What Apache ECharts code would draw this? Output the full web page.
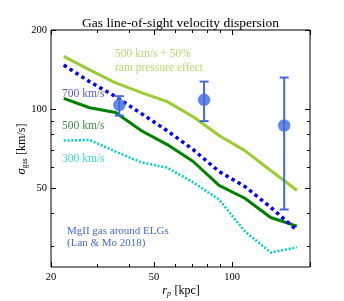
<!DOCTYPE html>
<html><head><meta charset="utf-8">
<script src="https://cdn.jsdelivr.net/npm/echarts@6/dist/echarts.min.js"></script>
<style>html,body{margin:0;padding:0;background:#fff}#c{width:344px;height:301px}</style>
</head><body><div id="c"></div>
<script>
// ---- data ----
const rp = [22.4, 28.2, 35.5, 44.7, 56.2, 70.8, 89.1, 112, 141, 178];
const v500ram = [158.6, 141, 125.8, 115.4, 106.7, 93.4, 79.2, 69.4, 58.3, 49];
const v700 = [147, 127, 111.4, 96, 82.6, 70, 57.8, 50.7, 42.2, 34.5];
const v500 = [109.8, 101.1, 96.9, 82.6, 73.2, 63.1, 51.2, 45.7, 38.6, 35.8];
const v300 = [75.8, 76.2, 68.8, 62.6, 59.8, 52.5, 45.2, 34.2, 28.4, 29.7];
const obsR = [36.7, 78, 159];
const obsSigma = [103.5, 108.4, 86.5];
const obsLow = [94.4, 89.9, 41.4];
const obsHigh = [111.9, 127.2, 131.8];
const xMajor = [20, 50, 100, 200];
const xMajorLabels = ['20', '50', '100', ''];
const xMinor = [30, 40, 60, 70, 80, 90];
const yMajor = [50, 100, 200];
const yMajorLabels = ['50', '100', '200'];
const yMinor = [30, 40, 60, 70, 80, 90];
const X_MIN = 20, X_MAX = 200, Y_MIN = 25, Y_MAX = 200;

const SERIF = '"Liberation Serif", "DejaVu Serif", serif';
const chart = echarts.init(document.getElementById('c'), null, {renderer: 'canvas'});
const pairs = ys => rp.map((x, i) => [x, ys[i]]);

function ticksRender(params, api) {
  const ch = [];
  const L = api.coord([X_MIN, Y_MIN])[0], R = api.coord([X_MAX, Y_MIN])[0];
  const B = api.coord([X_MIN, Y_MIN])[1], T = api.coord([X_MIN, Y_MAX])[1];
  const st = {stroke: '#000', lineWidth: 1};
  const addX = (v, len) => {
    const x = Math.round(api.coord([v, Y_MIN])[0]) + 0.5;
    ch.push({type: 'line', shape: {x1: x, y1: B, x2: x, y2: B - len}, style: st});
    ch.push({type: 'line', shape: {x1: x, y1: T, x2: x, y2: T + len}, style: st});
  };
  const addY = (v, len) => {
    const y = Math.round(api.coord([X_MIN, v])[1]) + 0.5;
    ch.push({type: 'line', shape: {x1: L, y1: y, x2: L + len, y2: y}, style: st});
    ch.push({type: 'line', shape: {x1: R, y1: y, x2: R - len, y2: y}, style: st});
  };
  xMajor.forEach(v => addX(v, 5));
  xMinor.forEach(v => addX(v, 3));
  yMajor.forEach(v => addY(v, 5));
  yMinor.forEach(v => addY(v, 3));
  xMajor.forEach((v, i) => {
    const x = api.coord([v, Y_MIN])[0];
    ch.push({type: 'text', style: {text: xMajorLabels[i], x: x, y: B + 5, textAlign: 'center', align: 'center',
      textVerticalAlign: 'top', verticalAlign: 'top', fontSize: 10.5, fontFamily: SERIF, fill: '#000'}});
  });
  yMajor.forEach((v, i) => {
    const y = api.coord([X_MIN, v])[1];
    ch.push({type: 'text', style: {text: yMajorLabels[i], x: L - 4, y: y, textAlign: 'right', align: 'right',
      textVerticalAlign: 'middle', verticalAlign: 'middle', fontSize: 10.5, fontFamily: SERIF, fill: '#000'}});
  });
  return {type: 'group', children: ch};
}

function errRender(params, api) {
  const x = api.value(0);
  const top = api.coord([x, api.value(3)]);
  const bot = api.coord([x, api.value(2)]);
  const hw = 4.5, c = '#4169e1';
  const st = {stroke: c, lineWidth: 2};
  return {type: 'group', children: [
    {type: 'line', shape: {x1: top[0], y1: top[1], x2: bot[0], y2: bot[1]}, style: st},
    {type: 'line', shape: {x1: top[0] - hw, y1: top[1], x2: top[0] + hw, y2: top[1]}, style: st},
    {type: 'line', shape: {x1: bot[0] - hw, y1: bot[1], x2: bot[0] + hw, y2: bot[1]}, style: st}
  ]};
}

const txt = (text, x, y, color, size) => ({type: 'text', left: x, top: y - (size || 11.5) * 0.6,
  style: {text: text, fill: color, font: (size || 11.5) + 'px ' + SERIF}});

chart.setOption({
  animation: false,
  backgroundColor: '#fff',
  grid: {left: 51, right: 34, top: 30, bottom: 34, show: true, borderColor: '#000', borderWidth: 1, containLabel: false},
  xAxis: {type: 'log', logBase: 10, min: X_MIN, max: X_MAX,
    axisLine: {show: false}, axisTick: {show: false}, axisLabel: {show: false}, splitLine: {show: false}},
  yAxis: {type: 'log', logBase: 10, min: Y_MIN, max: Y_MAX,
    axisLine: {show: false}, axisTick: {show: false}, axisLabel: {show: false}, splitLine: {show: false}},
  series: [
    {type: 'line', data: pairs(v300), symbol: 'none', z: 2,
      lineStyle: {color: '#00cccc', width: 2.5, type: [2, 1.8], cap: 'butt'}},
    {type: 'line', data: pairs(v500), symbol: 'none', z: 3,
      lineStyle: {color: '#008000', width: 3}},
    {type: 'line', data: pairs(v700), symbol: 'none', z: 4,
      lineStyle: {color: '#0000ff', width: 3.5, type: [3.5, 3.5], cap: 'butt'}},
    {type: 'line', data: pairs(v500ram), symbol: 'none', z: 3,
      lineStyle: {color: '#9acd32', width: 3}},
    {type: 'custom', renderItem: errRender, z: 5,
      data: obsR.map((r, i) => [r, obsSigma[i], obsLow[i], obsHigh[i]]), encode: {x: 0, y: 1}},
    {type: 'scatter', data: obsR.map((r, i) => [r, obsSigma[i]]), symbol: 'circle', symbolSize: 12.5, z: 6,
      itemStyle: {color: '#4169e1'}},
    {type: 'custom', renderItem: ticksRender, z: 10, silent: true, clip: false,
      data: [[X_MIN, Y_MIN]], encode: {x: 0, y: 1}}
  ],
  graphic: [
    {type: 'text', x: 180.5, y: 23, style: {text: 'Gas line-of-sight velocity dispersion', fill: '#000', font: '13.5px ' + SERIF,
      align: 'center', verticalAlign: 'middle', textAlign: 'center', textVerticalAlign: 'middle'}},
    txt('500 km/s + 50%', 115, 55, '#b3d96e'),
    txt('ram pressure effect', 115, 69, '#b3d96e'),
    txt('700 km/s', 62, 95, '#5a5af2'),
    txt('500 km/s', 62, 127, '#3d8f3d'),
    txt('300 km/s', 62, 160, '#3ad6d6'),
    txt('MgII gas around ELGs', 67, 232, '#4169e1', 11),
    txt('(Lan & Mo 2018)', 67, 244, '#4169e1', 11),
    {type: 'text', x: 22, y: 149, rotation: Math.PI / 2,
      style: {text: '{s|σ}{g|gas} {n|[km/s]}', align: 'center', verticalAlign: 'middle', textAlign: 'center', textVerticalAlign: 'middle',
        rich: {s: {fontSize: 12.5, fontFamily: SERIF, fontStyle: 'italic', fill: '#000', verticalAlign: 'top'},
               g: {fontSize: 7.5, fontFamily: SERIF, fill: '#000', verticalAlign: 'bottom', padding: [6, 0, 0, 0]},
               n: {fontSize: 12, fontFamily: SERIF, fill: '#000'}}}},
    {type: 'text', x: 181, y: 291,
      style: {text: '{s|r}{g|p} {n|[kpc]}', align: 'center', verticalAlign: 'middle', textAlign: 'center', textVerticalAlign: 'middle',
        rich: {s: {fontSize: 12.5, fontFamily: SERIF, fontStyle: 'italic', fill: '#000'},
               g: {fontSize: 8, fontFamily: SERIF, fontStyle: 'italic', fill: '#000', verticalAlign: 'bottom', padding: [6, 0, 0, 0]},
               n: {fontSize: 12, fontFamily: SERIF, fill: '#000'}}}}
  ]
});
</script></body></html>
